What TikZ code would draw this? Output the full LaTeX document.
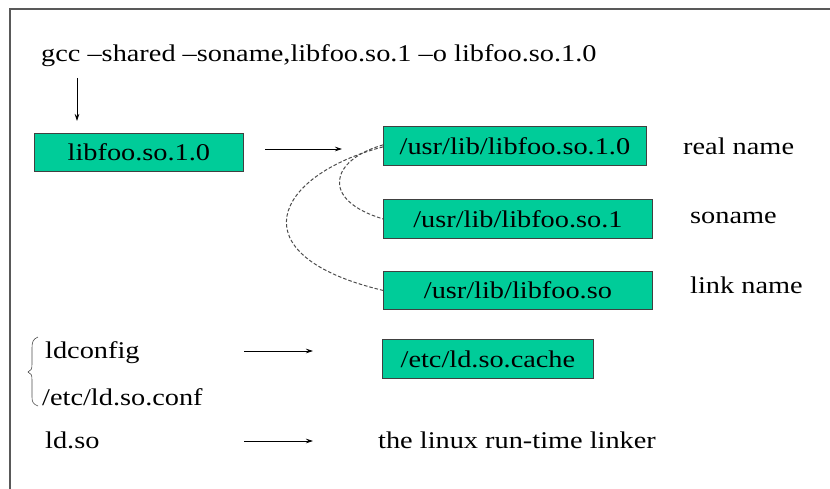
\documentclass[tikz,border=0pt]{standalone}
\usepackage{fontspec}
\setmainfont{Liberation Serif}
\usetikzlibrary{arrows.meta}
\definecolor{boxgreen}{RGB}{0,204,153}
\newcommand\stretchtxt[1]{\scalebox{1.18}[1]{#1}}
\begin{document}
\begin{tikzpicture}[x=1pt,y=-1pt,
  lbl/.style={anchor=base west, inner sep=0pt, font=\rmfamily\fontsize{24}{28}\selectfont},
  gbox/.style={draw=black!75, line width=0.8pt, fill=boxgreen, anchor=north west, inner sep=0pt, font=\rmfamily\fontsize{24}{28}\selectfont},
  arr/.style={-{Stealth[length=7pt,width=4.5pt]}, line width=0.7pt},
  linkline/.style={gray!60!black, line width=1pt, dash pattern=on 3.5pt off 2pt}]
\useasboundingbox (0,0) rectangle (830,489);
\draw[gray!70!black, line width=1.5pt] (830,9) -- (10,9) -- (10,489);

\node[lbl] (gcc) at (41,62) {\stretchtxt{gcc –shared –soname,libfoo.so.1 –o libfoo.so.1.0}};
\node[gbox, minimum width=209pt, minimum height=38pt] (b1) at (34,133) {\stretchtxt{libfoo.so.1.0}};
\node[gbox, minimum width=263pt, minimum height=39pt] (real) at (383,126) {\stretchtxt{/usr/lib/libfoo.so.1.0}};
\node[gbox, minimum width=269pt, minimum height=39pt] (soname) at (383,199) {\stretchtxt{/usr/lib/libfoo.so.1}};
\node[gbox, minimum width=269pt, minimum height=38pt] (linkn) at (383,271) {\stretchtxt{/usr/lib/libfoo.so}};
\node[gbox, minimum width=211pt, minimum height=39pt] (cache) at (382,339) {\stretchtxt{/etc/ld.so.cache}};

\node[lbl] (realt) at (683,155) {\stretchtxt{real name}};
\node[lbl] (sonamet) at (690,224) {\stretchtxt{soname}};
\node[lbl] (linkt) at (690,293) {\stretchtxt{link name}};

\node[lbl] (ldconfig) at (45,358) {\stretchtxt{ldconfig}};
\node[lbl] (ldconf) at (42,405) {\stretchtxt{/etc/ld.so.conf}};
\node[lbl] (ldso) at (45,448) {\stretchtxt{ld.so}};
\node[lbl] (linker) at (378,448) {\stretchtxt{the linux run-time linker}};

\coordinate (a0s) at (77,78);
\coordinate (a0e) at (77,121);
\coordinate (a1s) at (265,149);
\coordinate (a1e) at (342,149);
\coordinate (a2s) at (244,351);
\coordinate (a2e) at (313,351);
\coordinate (a3s) at (244,441);
\coordinate (a3e) at (313,441);
\draw[arr] (a0s) -- (a0e);
\draw[arr] (a1s) -- (a1e);
\draw[arr] (a2s) -- (a2e);
\draw[arr] (a3s) -- (a3e);

\draw[linkline] ([yshift=1pt]real.west) .. controls (330,160) and (320,200) .. (soname.west);
\draw[linkline] ([yshift=-1pt]real.west) .. controls (275,175) and (235,255) .. (linkn.west);

\draw[black!70, line width=0.6pt] (38,337) .. controls (33,339) and (32,342) .. (32,348) -- (32,364)
  .. controls (32,369) and (31,371) .. (28,372) .. controls (31,373) and (32,375) .. (32,380) -- (32,397)
  .. controls (32,402) and (33,404) .. (38,406);
\end{tikzpicture}
\end{document}
